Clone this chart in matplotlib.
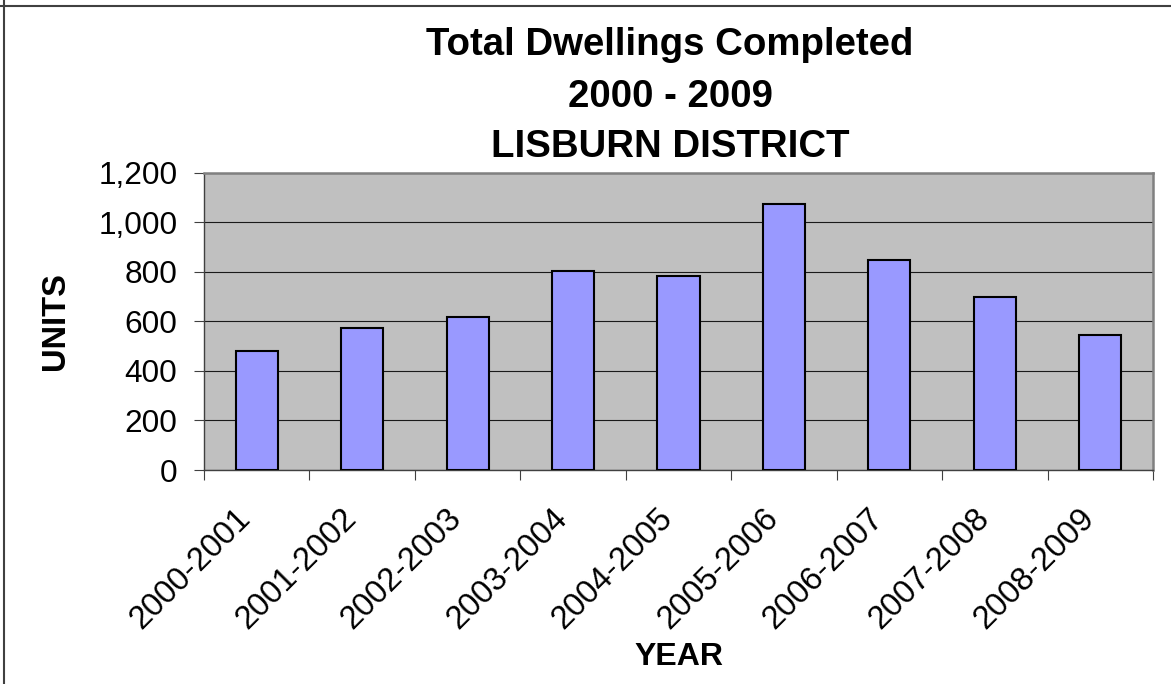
import matplotlib
matplotlib.use('Agg')
import matplotlib.pyplot as plt
from matplotlib.lines import Line2D
from matplotlib.ticker import FuncFormatter
from matplotlib.transforms import ScaledTranslation

# data
years = ['2000-2001', '2001-2002', '2002-2003', '2003-2004', '2004-2005',
         '2005-2006', '2006-2007', '2007-2008', '2008-2009']
units = [481, 574, 617, 804, 782, 1075, 846, 700, 544]
title_lines = ['Total Dwellings Completed', '2000 - 2009', 'LISBURN DISTRICT']
y_ticks = [0, 200, 400, 600, 800, 1000, 1200]

plt.rcParams['font.family'] = ['Liberation Sans', 'DejaVu Sans']

W, H = 1171, 684
fig = plt.figure(figsize=(W / 100, H / 100), dpi=100)

# plot area in pixels (left, top, right, bottom)
pl, pt, pr, pb = 204, 172.7, 1153, 470
ax = fig.add_axes([pl / W, 1 - pb / H, (pr - pl) / W, (pb - pt) / H])
ax.set_facecolor('#C0C0C0')

x = list(range(len(years)))
ax.bar(x, units, width=0.4, color='#9999FF', edgecolor='black', linewidth=1.5, zorder=3)

ax.set_xlim(-0.5, len(years) - 0.5)
ax.set_ylim(0, 1200)
ax.set_yticks(y_ticks)
ax.yaxis.set_major_formatter(FuncFormatter(lambda v, p: f'{int(v):,}'))
ax.yaxis.grid(True, color='#1a1a1a', linewidth=0.8, zorder=1)
ax.set_axisbelow(True)

ax.tick_params(axis='y', direction='out', length=7.2, width=0.8, color='#404040',
               pad=12, labelsize=22.8)

# boundary ticks below the x axis
ax.set_xticks([i - 0.5 for i in range(len(years) + 1)])
ax.set_xticklabels([])
ax.tick_params(axis='x', which='major', direction='out', length=7.2, width=0.8, color='#404040')

# rotated category labels, right end near the category centre
lab_off = ScaledTranslation(-13 / 100, -41 / 100, fig.dpi_scale_trans)
for i, yr in zip(x, years):
    ax.text(i, 0, yr, transform=ax.get_xaxis_transform() + lab_off, rotation=45,
            ha='right', va='center_baseline', rotation_mode='anchor', fontsize=23.5)

for s in ['top', 'right']:
    ax.spines[s].set_color('#808080')
    ax.spines[s].set_linewidth(1.8)
for s in ['left', 'bottom']:
    ax.spines[s].set_color('#404040')
    ax.spines[s].set_linewidth(1.0)

ax.text((55 - pl) / (pr - pl), 0.5, 'UNITS', transform=ax.transAxes, rotation=90,
        ha='center', va='center', fontsize=23.5, fontweight='bold')
ax.text(0.5, (pb - 665) / (pb - pt), 'YEAR', transform=ax.transAxes,
        ha='center', va='baseline', fontsize=23, fontweight='bold')

# three title lines
for line, base in zip(title_lines, [55, 106.7, 156.7]):
    fig.text(670 / W, 1 - base / H, line, ha='center', va='baseline',
             fontsize=27.6, fontweight='bold')

# chart-area border (top and left edges visible)
fig.add_artist(Line2D([0, 1], [1 - 5.5 / H, 1 - 5.5 / H], transform=fig.transFigure,
                      color='#404040', linewidth=1.5))
fig.add_artist(Line2D([4 / W, 4 / W], [0, 1], transform=fig.transFigure,
                      color='#404040', linewidth=1.5))

fig.savefig('out.png', dpi=100)
